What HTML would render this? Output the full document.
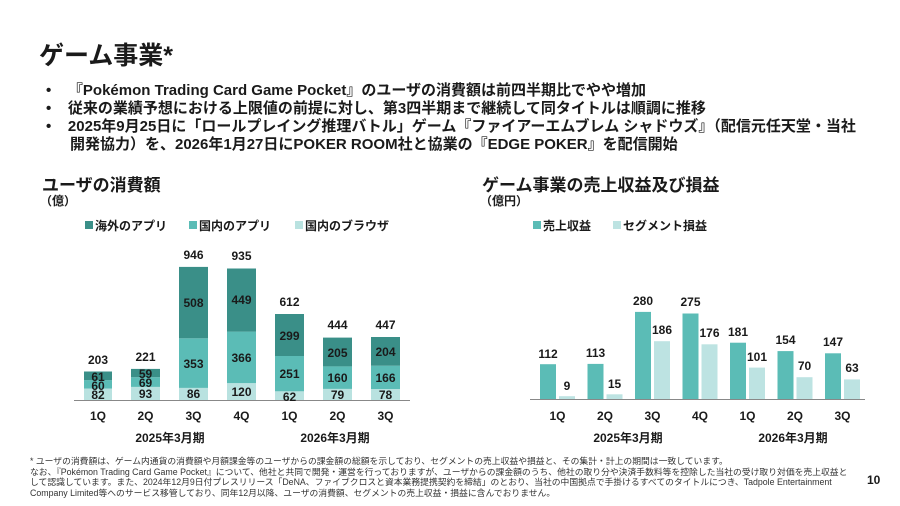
<!DOCTYPE html>
<html><head><meta charset="utf-8"><style>
body{margin:0;width:900px;height:506px;background:#fff;overflow:hidden;font-family:"Liberation Sans","Noto Sans CJK JP",sans-serif;color:#1a1a1a;position:relative}
.a{position:absolute;white-space:nowrap}
.b{font-weight:bold;font-size:15px}
.fn{font-size:8.8px;color:#333;line-height:10.7px}
</style></head><body>
<div class="a" style="left:39px;top:36px;font-size:25px;font-weight:bold">ゲーム事業*</div>
<div class="a b" style="left:46px;top:82px;line-height:18px">
<div>•&nbsp;&nbsp;&nbsp;&nbsp;『Pokémon Trading Card Game Pocket』のユーザの消費額は前四半期比でやや増加</div>
<div>•&nbsp;&nbsp;&nbsp;&nbsp;従来の業績予想における上限値の前提に対し、第3四半期まで継続して同タイトルは順調に推移</div>
<div>•&nbsp;&nbsp;&nbsp;&nbsp;2025年9月25日に「ロールプレイング推理バトル」ゲーム『ファイアーエムブレム シャドウズ』（配信元任天堂・当社</div>
<div style="padding-left:24px">開発協力）を、2026年1月27日にPOKER ROOM社と協業の『EDGE POKER』を配信開始</div>
</div>
<div class="a" style="left:42px;top:171px;font-size:17px;font-weight:bold">ユーザの消費額</div>
<div class="a" style="left:40px;top:192px;font-size:12px;font-weight:bold">（億）</div>
<div class="a" style="left:482px;top:171px;font-size:17px;font-weight:bold">ゲーム事業の売上収益及び損益</div>
<div class="a" style="left:480px;top:192px;font-size:12px;font-weight:bold">（億円）</div>

<svg class="a" style="left:0;top:0" width="900" height="506" font-family="Liberation Sans, Noto Sans CJK JP, sans-serif" font-weight="bold">
<g font-size="12" fill="#1a1a1a">
<rect x="85" y="221" width="8" height="8" fill="#3a8f88"/><text x="95" y="230">海外のアプリ</text>
<rect x="189" y="221" width="8" height="8" fill="#5bbcb6"/><text x="199" y="230">国内のアプリ</text>
<rect x="295" y="221" width="8" height="8" fill="#b9e2e0"/><text x="305" y="230">国内のブラウザ</text>
<rect x="533" y="221" width="8" height="8" fill="#5bbcb6"/><text x="543" y="230">売上収益</text>
<rect x="613" y="221" width="8" height="8" fill="#bde3e2"/><text x="623" y="230">セグメント損益</text>
</g>
<g>
<rect x="84" y="388.5" width="28" height="11.5" fill="#b9e2e0"/><rect x="84" y="380.1" width="28" height="8.4" fill="#5bbcb6"/><rect x="84" y="371.5" width="28" height="8.6" fill="#3a8f88"/>
<rect x="131" y="386.9" width="29" height="13.1" fill="#b9e2e0"/><rect x="131" y="377.2" width="29" height="9.7" fill="#5bbcb6"/><rect x="131" y="368.9" width="29" height="8.3" fill="#3a8f88"/>
<rect x="179" y="387.9" width="29" height="12.1" fill="#b9e2e0"/><rect x="179" y="338.3" width="29" height="49.6" fill="#5bbcb6"/><rect x="179" y="266.9" width="29" height="71.4" fill="#3a8f88"/>
<rect x="227" y="383.1" width="29" height="16.9" fill="#b9e2e0"/><rect x="227" y="331.6" width="29" height="51.5" fill="#5bbcb6"/><rect x="227" y="268.5" width="29" height="63.1" fill="#3a8f88"/>
<rect x="275" y="391.3" width="29" height="8.7" fill="#b9e2e0"/><rect x="275" y="356" width="29" height="35.3" fill="#5bbcb6"/><rect x="275" y="314" width="29" height="42" fill="#3a8f88"/>
<rect x="323" y="388.9" width="29" height="11.1" fill="#b9e2e0"/><rect x="323" y="366.4" width="29" height="22.5" fill="#5bbcb6"/><rect x="323" y="337.6" width="29" height="28.8" fill="#3a8f88"/>
<rect x="371" y="389" width="29" height="11" fill="#b9e2e0"/><rect x="371" y="365.7" width="29" height="23.3" fill="#5bbcb6"/><rect x="371" y="337" width="29" height="28.7" fill="#3a8f88"/>
<line x1="74" y1="400.5" x2="410" y2="400.5" stroke="#888" stroke-width="1"/>
</g>
<g font-size="12" text-anchor="middle" fill="#1a1a1a">
<text x="98" y="399">82</text><text x="98" y="390">60</text><text x="98" y="381">61</text><text x="98" y="364">203</text>
<text x="145.5" y="398">93</text><text x="145.5" y="387">69</text><text x="145.5" y="378">59</text><text x="145.5" y="361">221</text>
<text x="193.5" y="398">86</text><text x="193.5" y="368">353</text><text x="193.5" y="307">508</text><text x="193.5" y="259">946</text>
<text x="241.5" y="396">120</text><text x="241.5" y="362">366</text><text x="241.5" y="304">449</text><text x="241.5" y="260">935</text>
<text x="289.5" y="401">62</text><text x="289.5" y="378">251</text><text x="289.5" y="340">299</text><text x="289.5" y="306">612</text>
<text x="337.5" y="399">79</text><text x="337.5" y="382">160</text><text x="337.5" y="357">205</text><text x="337.5" y="329">444</text>
<text x="385.5" y="399">78</text><text x="385.5" y="382">166</text><text x="385.5" y="356">204</text><text x="385.5" y="329">447</text>
<text x="98" y="420">1Q</text><text x="145.5" y="420">2Q</text><text x="193.5" y="420">3Q</text><text x="241.5" y="420">4Q</text><text x="289.5" y="420">1Q</text><text x="337.5" y="420">2Q</text><text x="385.5" y="420">3Q</text>
<text x="170" y="442">2025年3月期</text><text x="335" y="442">2026年3月期</text>
</g>
<g>
<rect x="540" y="364.2" width="16" height="34.8" fill="#5bbcb6"/><rect x="559" y="396.2" width="16" height="2.8" fill="#bde3e2"/>
<rect x="587.5" y="363.9" width="16" height="35.1" fill="#5bbcb6"/><rect x="606.5" y="394.3" width="16" height="4.7" fill="#bde3e2"/>
<rect x="635" y="311.9" width="16" height="87.1" fill="#5bbcb6"/><rect x="654" y="341.2" width="16" height="57.8" fill="#bde3e2"/>
<rect x="682.5" y="313.5" width="16" height="85.5" fill="#5bbcb6"/><rect x="701.5" y="344.3" width="16" height="54.7" fill="#bde3e2"/>
<rect x="730" y="342.7" width="16" height="56.3" fill="#5bbcb6"/><rect x="749" y="367.6" width="16" height="31.4" fill="#bde3e2"/>
<rect x="777.5" y="351.1" width="16" height="47.9" fill="#5bbcb6"/><rect x="796.5" y="377.2" width="16" height="21.8" fill="#bde3e2"/>
<rect x="825" y="353.3" width="16" height="45.7" fill="#5bbcb6"/><rect x="844" y="379.4" width="16" height="19.6" fill="#bde3e2"/>
<line x1="530" y1="399.5" x2="865" y2="399.5" stroke="#888" stroke-width="1"/>
</g>
<g font-size="12" text-anchor="middle" fill="#1a1a1a">
<text x="548" y="358">112</text><text x="567" y="390">9</text>
<text x="595.5" y="357">113</text><text x="614.5" y="388">15</text>
<text x="643" y="305">280</text><text x="662" y="334">186</text>
<text x="690.5" y="306">275</text><text x="709.5" y="337">176</text>
<text x="738" y="336">181</text><text x="757" y="361">101</text>
<text x="785.5" y="344">154</text><text x="804.5" y="370">70</text>
<text x="833" y="346">147</text><text x="852" y="372">63</text>
<text x="557.5" y="420">1Q</text><text x="605" y="420">2Q</text><text x="652.5" y="420">3Q</text><text x="700" y="420">4Q</text><text x="747.5" y="420">1Q</text><text x="795" y="420">2Q</text><text x="842.5" y="420">3Q</text>
<text x="628" y="442">2025年3月期</text><text x="793" y="442">2026年3月期</text>
</g>
</svg>

<div class="a fn" style="left:30px;top:456px">
<div>* ユーザの消費額は、ゲーム内通貨の消費額や月額課金等のユーザからの課金額の総額を示しており、セグメントの売上収益や損益と、その集計・計上の期間は一致しています。</div>
<div>なお、『Pokémon Trading Card Game Pocket』について、他社と共同で開発・運営を行っておりますが、ユーザからの課金額のうち、他社の取り分や決済手数料等を控除した当社の受け取り対価を売上収益と</div>
<div>して認識しています。また、2024年12月9日付プレスリリース「DeNA、ファイブクロスと資本業務提携契約を締結」のとおり、当社の中国拠点で手掛けるすべてのタイトルにつき、Tadpole Entertainment</div>
<div>Company Limited等へのサービス移管しており、同年12月以降、ユーザの消費額、セグメントの売上収益・損益に含んでおりません。</div>
</div>
<div class="a" style="left:867px;top:473px;font-size:12px;font-weight:bold">10</div>
</body></html>
